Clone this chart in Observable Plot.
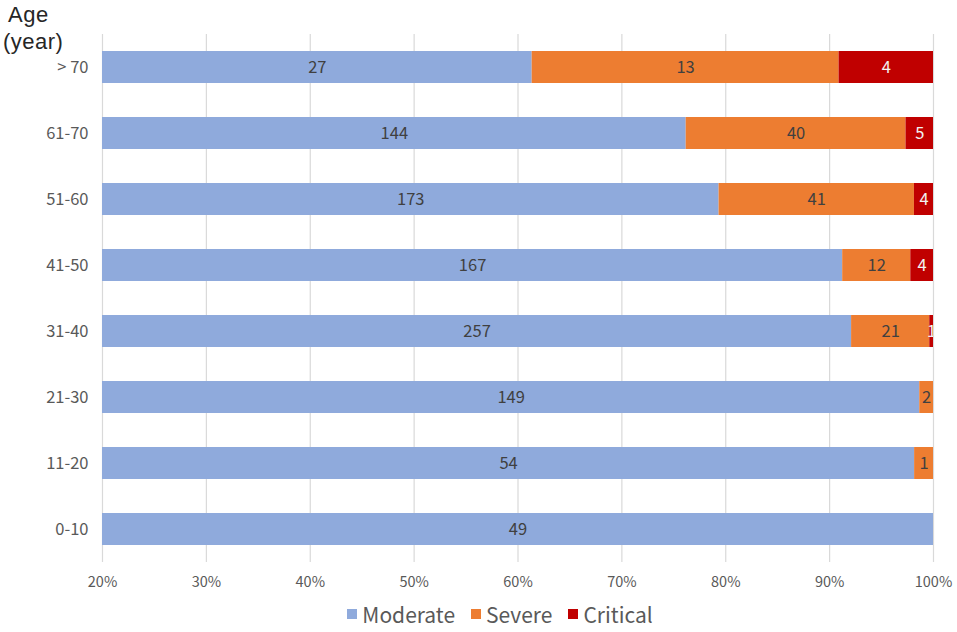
<!DOCTYPE html>
<html>
<head>
<meta charset="utf-8">
<script src="https://cdn.jsdelivr.net/npm/d3@7"></script>
<script src="https://cdn.jsdelivr.net/npm/@observablehq/plot@0.6"></script>
<style>
  body { margin: 0; background: #fff; font-family: "Noto Sans CJK SC", "Noto Sans", sans-serif; }
  #wrap { position: relative; width: 957px; height: 632px; }
  .t { position: absolute; font-family: "Liberation Sans", Lato, sans-serif; font-size: 22px; line-height: 25px; letter-spacing: 0.5px; color: #262626; white-space: nowrap; }
  #legend { position: absolute; left: 0; top: 600px; width: 1000px; display: flex; justify-content: center; gap: 16px; font-size: 21px; line-height: 28px; color: #595959; }
  #legend span.item { display: flex; align-items: center; gap: 5px; }
  #legend span.sw { display: inline-block; width: 10px; height: 10px; }
</style>
</head>
<body>
<div id="wrap">
  <div id="chart"></div>
  <div class="t" style="left:8px;top:2px;">Age</div>
  <div class="t" style="left:3px;top:29px;">(year)</div>
  <div id="legend"></div>
</div>
<script>
const ages = ["0-10", "11-20", "21-30", "31-40", "41-50", "51-60", "61-70", "> 70"];
const moderate = [49, 54, 149, 257, 167, 173, 144, 27];
const severe = [0, 1, 2, 21, 12, 41, 40, 13];
const critical = [0, 0, 0, 1, 4, 4, 5, 4];
const levels = ["Moderate", "Severe", "Critical"];
const colors = ["#8FAADC", "#ED7D31", "#C00000"];
const labelColors = ["#404040", "#404040", "#F2F2F2"];
const xTicks = [20, 30, 40, 50, 60, 70, 80, 90, 100];

const series = [moderate, severe, critical];
const rows = [];
ages.forEach((age, i) => {
  const total = moderate[i] + severe[i] + critical[i];
  let cum = 0;
  series.forEach((s, k) => {
    const v = s[i];
    const x1 = cum / total * 100;
    cum += v;
    const x2 = cum / total * 100;
    if (v > 0) rows.push({age, level: levels[k], value: v, x1, x2, mid: (Math.max(20, x1) + x2) / 2, lc: labelColors[k]});
  });
});

const chart = Plot.plot({
  width: 957,
  height: 600,
  marginTop: 34,
  marginBottom: 38,
  marginLeft: 102,
  marginRight: 24,
  style: {fontFamily: '"Noto Sans CJK SC", "Noto Sans", sans-serif', background: "#fff"},
  x: {domain: [20, 100], ticks: xTicks},
  y: {domain: ages.slice().reverse(), paddingInner: 0.515, paddingOuter: 0.2575, label: null},
  color: {domain: levels, range: colors},
  marks: [
    Plot.gridX(xTicks, {stroke: "#D9D9D9", strokeOpacity: 1, strokeWidth: 1.2}),
    Plot.rectX(rows, {y: "age", x1: "x1", x2: "x2", fill: "level", clip: true}),
    Plot.text(rows, {y: "age", x: "mid", text: d => String(d.value), fill: "lc", fontSize: 16.5, clip: true}),
    Plot.axisX(xTicks, {tickSize: 0, tickPadding: 14, tickFormat: d => d + "%", fontSize: 14.5, fill: "#595959", label: null}),
    Plot.axisY({tickSize: 0, tickPadding: 14, fontSize: 16.5, fill: "#595959", label: null})
  ]
});
document.getElementById("chart").appendChild(chart);

const legend = document.getElementById("legend");
levels.forEach((l, k) => {
  const item = document.createElement("span");
  item.className = "item";
  item.innerHTML = `<span class="sw" style="background:${colors[k]}"></span>${l}`;
  legend.appendChild(item);
});
</script>
</body>
</html>
